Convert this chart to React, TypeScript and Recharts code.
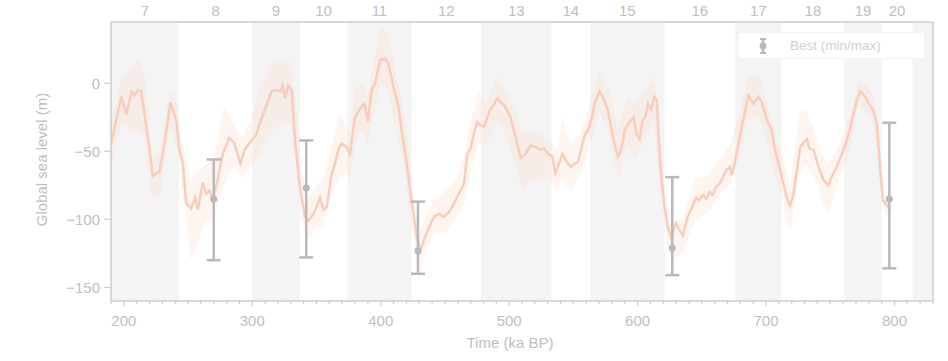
import {
  Area,
  ComposedChart,
  ErrorBar,
  Line,
  ReferenceArea,
  ReferenceLine,
  Scatter,
  XAxis,
  YAxis,
} from "recharts";

// marine isotope stage boundaries (ka BP), stage 7 starts at the left edge
const STAGE_BOUNDS = [190, 243, 300, 337, 374, 424, 478, 533, 563, 621, 676, 712, 761, 790, 814, 830];
const STAGE_LABELS = ["7", "8", "9", "10", "11", "12", "13", "14", "15", "16", "17", "18", "19", "20"];

const X_MAJOR = [200, 300, 400, 500, 600, 700, 800];
const Y_TICKS = [-150, -100, -50, 0];

// reconstructed global sea level, best estimate
const KA = [
  190, 198, 202, 206, 208, 211, 213.5, 216, 220, 222.6, 227.8, 231.7, 236.3, 240.7, 243.3, 246, 248.5, 252.4,
  255.5, 257.6, 261.5, 264, 266.7, 269.3, 273, 277, 282, 286, 290.8, 294, 297.8, 303, 306.8, 310.7, 315, 319,
  321.7, 323.7, 325.5, 328, 330.7, 333.3, 337, 341, 343.7, 347.6, 350, 352.8, 355.4, 358, 361.9, 364.4, 367,
  369.6, 373.5, 376, 380, 383, 385, 387.3, 390, 393, 395.6, 399.5, 403.4, 406, 410, 413.8, 416.3, 420, 424, 428,
  431, 433.7, 437.6, 441.5, 445.4, 449, 453, 457, 461, 464.8, 467.5, 470, 472.6, 475, 477.8, 480.4, 483, 485.6,
  488, 490.8, 493.4, 496, 498.6, 501, 505, 509, 512.8, 516.7, 520.6, 524.5, 527, 530.5, 533.6, 536, 538.8,
  541.4, 545, 547.9, 551, 553.5, 556, 558.8, 561.4, 564, 566.5, 570.4, 573, 577, 580.8, 584.7, 587.3, 590,
  592.5, 595, 597, 599, 601.5, 604, 606, 608, 610.6, 613, 615, 617.7, 621, 623.6, 626, 630, 632.7, 635.3, 639,
  643, 645.6, 648, 650.8, 653.5, 656, 658.6, 661, 663.7, 666, 669, 672, 673.5, 676, 680, 683.8, 686.4, 690.3,
  694, 696.7, 700.6, 704.5, 707, 709.7, 713.6, 716, 718.8, 721.4, 724, 726.6, 729, 731.8, 733.8, 737, 740.9,
  744.7, 748.6, 751, 755, 759, 763, 767, 770.7, 773.4, 777.3, 779.8, 783.7, 786.3, 789, 791, 797,
];
const SEA_LEVEL = [
  -45, -10, -23, -6, -9, -5, -6, -22, -49, -68, -65, -44, -14, -27, -49, -59, -88, -92,
  -84, -93, -73, -81, -79, -86, -71, -52, -40, -44, -59, -49, -44, -38, -27, -17, -6, -5,
  -6, -1.5, -11, -1.5, -5, -42, -76, -98, -101, -96, -91, -84, -93, -91, -66, -59, -49,
  -44, -47, -52, -25, -20, -17, -15, -28, -5, 0, 17, 18, 14.5, -3, -17, -34.5, -57, -86, -113,
  -123, -115, -106, -98, -96, -98, -95, -88.5, -81, -74, -52, -48, -37, -28.5, -31, -32, -25, -18.6,
  -16, -11, -14, -16, -20, -25, -39.5, -55, -52, -45.6, -47, -49, -48, -52, -54, -66, -59,
  -52, -58, -61.5, -59, -58, -49, -38, -34.5, -27, -15, -6, -10, -20, -39.5, -54, -49, -34.5,
  -30, -27, -25, -37, -41, -27, -25, -15, -19, -10, -12.5, -61.5, -91, -106, -113, -103, -108, -112, -98,
  -90, -84, -86, -82, -85, -80, -82, -76, -74, -70, -64, -61.5, -67.6, -56.6, -37, -20, -9, -15,
  -10, -14, -27, -34.5, -49, -59, -74, -84, -90, -81, -64, -47, -44, -41, -48, -49, -61.5,
  -71, -75, -69, -61.5, -52, -42, -27, -12.5, -6, -10, -15, -20, -30, -64, -86, -93,
];

// uncertainty envelope around the curve
const BAND_KA = [
  190, 198, 204, 211, 216, 222, 228, 236, 241, 246, 252, 258, 264, 270, 278, 286, 292, 300, 307, 315, 322, 330,
  334, 338, 343, 350, 355, 362, 368, 372, 376, 380, 385, 390, 395, 400, 406, 412, 418, 424, 430, 436, 442, 450,
  458, 465, 470, 476, 482, 490, 494, 500, 505, 510, 516, 524, 532, 538, 541, 548, 556, 564, 570, 577, 585, 592,
  598, 606, 613, 617, 623, 627, 635, 645, 655, 665, 672, 680, 686, 694, 700, 708, 716, 719, 726, 731, 738, 745,
  749, 757, 765, 772, 777, 784, 789, 792, 797,
];
const BAND_LO = [
  -60, -30, -35, -35, -40, -85, -85, -30, -45, -80, -130, -115, -100, -100, -75, -60, -70, -60, -50, -35, -30, -30,
  -60, -100, -115, -105, -105, -80, -70, -65, -70, -45, -35, -45, -20, 0, -5, -35, -60, -105, -145, -120, -110, -110,
  -100, -90, -65, -45, -45, -30, -30, -45, -60, -78, -72, -70, -70, -80, -70, -80, -65, -42, -20, -35, -70, -45,
  -55, -40, -25, -70, -120, -130, -125, -100, -95, -80, -75, -50, -25, -25, -40, -70, -100, -108, -65, -60, -70, -90,
  -95, -70, -50, -15, -20, -30, -75, -95, -100,
];
const BAND_HI = [
  -30, 5, 10, 18, 8, -55, -50, -5, -15, -45, -70, -65, -60, -55, -17, -30, -40, -25, 0, 15, 18, 15,
  -15, -60, -85, -75, -70, -45, -22, -30, -35, -5, 0, -10, 15, 42, 35, 5, -20, -70, -110, -95, -85, -80,
  -70, -55, -30, -5, -15, 5, 0, -10, -20, -35, -35, -38, -42, -50, -25, -45, -35, -12, 10, -2, -35, -10,
  -15, -5, 5, -40, -90, -100, -100, -70, -68, -55, -45, -20, 5, 8, -12, -40, -65, -75, -20, -20, -35, -55,
  -60, -45, -25, 2, 0, -10, -55, -78, -85,
];

// highstand/lowstand estimates with min/max range
const BEST_KA = [270, 342, 429, 627, 796];
const BEST = [-85, -77, -123, -121, -85];
const BEST_MIN = [-130, -128, -140, -141, -136];
const BEST_MAX = [-56, -42, -87, -69, -29];

const AXIS = "#cdcdcd";
const TEXT = "#c0c0c0";
const SHADE = "#f4f4f4";
const LINE = "#f8cdbc";
const ERR = "#b9b9b9";
const FONT = '"Liberation Sans", Arial, sans-serif';

const lineData = KA.map((x, i) => ({ x, y: SEA_LEVEL[i] }));
const bandData = BAND_KA.map((x, i) => ({ x, range: [BAND_LO[i], BAND_HI[i]] }));
const bestData = BEST_KA.map((x, i) => ({
  x,
  y: BEST[i],
  err: [BEST[i] - BEST_MIN[i], BEST_MAX[i] - BEST[i]],
}));

const xTicks = Array.from({ length: 65 }, (_, i) => 190 + i * 10);
const stageMids = STAGE_LABELS.map((_, i) => (STAGE_BOUNDS[i] + STAGE_BOUNDS[i + 1]) / 2);
const shaded = STAGE_BOUNDS.slice(0, -1)
  .map((b, i) => ({ x1: b, x2: STAGE_BOUNDS[i + 1] }))
  .filter((_, i) => i % 2 === 0);

function BottomTick({ x, y, payload }: any) {
  const v = payload.value;
  const major = X_MAJOR.includes(v);
  return (
    <g>
      <line x1={x} x2={x} y1={y} y2={y + (major ? 5 : 3)} stroke={AXIS} strokeWidth={1.2} />
      {major && (
        <text x={x} y={y + 25} textAnchor="middle" fill={TEXT} fontSize={15}>
          {v}
        </text>
      )}
    </g>
  );
}

function LegendBox() {
  return (
    <div
      style={{
        position: "absolute",
        left: 738,
        top: 32,
        width: 187,
        height: 27,
        background: "#fff",
        border: "1px solid #f4f4f4",
        boxSizing: "border-box",
        display: "flex",
        alignItems: "center",
      }}
    >
      <svg width={14} height={18} style={{ marginLeft: 17 }}>
        <line x1={7} x2={7} y1={2} y2={16} stroke={ERR} strokeWidth={2.5} />
        <line x1={4} x2={10} y1={2} y2={2} stroke={ERR} strokeWidth={2} />
        <line x1={4} x2={10} y1={16} y2={16} stroke={ERR} strokeWidth={2} />
        <circle cx={7} cy={9} r={3.5} fill={ERR} />
      </svg>
      <span style={{ marginLeft: 20, fontSize: 13.5, color: "#cfcfcf" }}>Best (min/max)</span>
    </div>
  );
}

export default function App() {
  return (
    <div style={{ position: "absolute", left: 0, top: 0, width: 948, height: 361, fontFamily: FONT }}>
      <ComposedChart width={948} height={361} margin={{ top: 0, right: 0, bottom: 0, left: 0 }}>
        <XAxis
          xAxisId="bottom"
          dataKey="x"
          type="number"
          domain={[190, 830]}
          allowDataOverflow
          ticks={xTicks}
          interval={0}
          height={60}
          tickSize={0}
          tickMargin={0}
          tickLine={false}
          tick={<BottomTick />}
          axisLine={{ stroke: AXIS, strokeWidth: 1.5 }}
          label={{ value: "Time (ka BP)", position: "insideBottom", offset: 13, dx: -12, fill: TEXT, fontSize: 15 }}
        />
        <XAxis
          xAxisId="top"
          orientation="top"
          type="number"
          domain={[190, 830]}
          height={22}
          tick={false}
          tickLine={false}
          axisLine={{ stroke: AXIS, strokeWidth: 1.5 }}
        />
        <YAxis
          yAxisId="left"
          type="number"
          domain={[-160, 45]}
          allowDataOverflow
          ticks={Y_TICKS}
          width={111}
          tickSize={7}
          tickMargin={4}
          tickLine={{ stroke: AXIS, strokeWidth: 1.2 }}
          axisLine={{ stroke: AXIS, strokeWidth: 1.5 }}
          tick={{ fill: TEXT, fontSize: 15 }}
          tickFormatter={(v: number) => (v < 0 ? `\u2212${-v}` : `${v}`)}
          label={{
            value: "Global sea level (m)",
            angle: -90,
            position: "insideLeft",
            offset: 42,
            dy: -2,
            fill: TEXT,
            fontSize: 15,
            style: { textAnchor: "middle" },
          }}
        />
        <YAxis
          yAxisId="right"
          orientation="right"
          type="number"
          domain={[-160, 45]}
          width={15}
          tick={false}
          tickLine={false}
          axisLine={{ stroke: AXIS, strokeWidth: 1.5 }}
        />
        {shaded.map((s, i) => (
          <ReferenceArea
            key={i}
            xAxisId="bottom"
            yAxisId="left"
            x1={s.x1}
            x2={s.x2}
            y1={-160}
            y2={45}
            fill={SHADE}
            fillOpacity={1}
            stroke="none"
            ifOverflow="hidden"
          />
        ))}
        {stageMids.map((m, i) => (
          <ReferenceLine
            key={`s${i}`}
            xAxisId="bottom"
            yAxisId="left"
            x={m}
            stroke="none"
            label={{ value: STAGE_LABELS[i], position: "top", offset: 6, fill: TEXT, fontSize: 15 }}
          />
        ))}
        <Area
          xAxisId="bottom"
          yAxisId="left"
          data={bandData}
          dataKey="range"
          type="linear"
          stroke="none"
          fill="#fcd6c8"
          fillOpacity={0.25}
          isAnimationActive={false}
        />
        <Line
          xAxisId="bottom"
          yAxisId="left"
          data={lineData}
          dataKey="y"
          type="linear"
          stroke={LINE}
          strokeWidth={2.5}
          dot={false}
          activeDot={false}
          isAnimationActive={false}
        />
        <Scatter
          xAxisId="bottom"
          yAxisId="left"
          data={bestData}
          dataKey="y"
          fill={ERR}
          isAnimationActive={false}
          shape={(p: any) => <circle cx={p.cx} cy={p.cy} r={3.5} fill={ERR} />}
        >
          <ErrorBar dataKey="err" direction="y" width={7} stroke={ERR} strokeWidth={2.5} isAnimationActive={false} />
        </Scatter>
      </ComposedChart>
      <LegendBox />
    </div>
  );
}
